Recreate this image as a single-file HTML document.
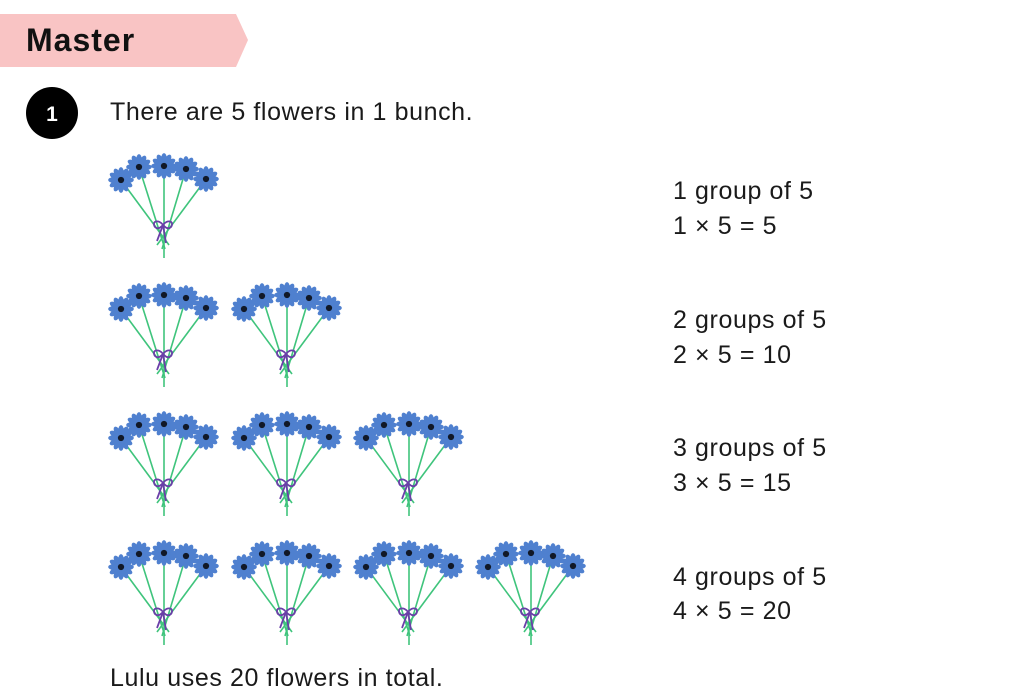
<!DOCTYPE html>
<html><head><meta charset="utf-8"><style>
html,body{margin:0;padding:0;background:#fff;}
body{width:1023px;height:695px;overflow:hidden;position:relative;font-family:"Liberation Sans",sans-serif;}
.t{position:absolute;font-size:25px;letter-spacing:0.6px;color:#1a1a1a;white-space:nowrap;line-height:1;}
</style></head><body>
<svg width="1023" height="695" style="position:absolute;left:0;top:0">
<defs>
<g id="fl" transform="scale(1.2)">
  <g fill="#4f80cf">
    <ellipse cx="0" cy="-6.5" rx="2.3" ry="4.2"/>
    <ellipse cx="0" cy="-6.5" rx="2.3" ry="4.2" transform="rotate(30)"/>
    <ellipse cx="0" cy="-6.5" rx="2.3" ry="4.2" transform="rotate(60)"/>
    <ellipse cx="0" cy="-6.5" rx="2.3" ry="4.2" transform="rotate(90)"/>
    <ellipse cx="0" cy="-6.5" rx="2.3" ry="4.2" transform="rotate(120)"/>
    <ellipse cx="0" cy="-6.5" rx="2.3" ry="4.2" transform="rotate(150)"/>
    <ellipse cx="0" cy="-6.5" rx="2.3" ry="4.2" transform="rotate(180)"/>
    <ellipse cx="0" cy="-6.5" rx="2.3" ry="4.2" transform="rotate(210)"/>
    <ellipse cx="0" cy="-6.5" rx="2.3" ry="4.2" transform="rotate(240)"/>
    <ellipse cx="0" cy="-6.5" rx="2.3" ry="4.2" transform="rotate(270)"/>
    <ellipse cx="0" cy="-6.5" rx="2.3" ry="4.2" transform="rotate(300)"/>
    <ellipse cx="0" cy="-6.5" rx="2.3" ry="4.2" transform="rotate(330)"/>
    <circle r="5.5"/>
  </g>
  <circle r="2.6" fill="#111827"/>
</g>
<g id="b">
  <g stroke="#3fc47c" stroke-width="1.6" fill="none">
    <line x1="-42" y1="-45" x2="6" y2="20"/>
    <line x1="-24" y1="-58" x2="2" y2="24"/>
    <line x1="1" y1="-59" x2="1" y2="33"/>
    <line x1="23" y1="-56" x2="-1" y2="24"/>
    <line x1="43" y1="-46" x2="-6" y2="20"/>
  </g>
  <g stroke="#6a3fa8" stroke-width="1.8" fill="none">
    <path d="M0,0 C-4,-6 -12,-4 -8,2 C-5,5 -2,2 0,0"/>
    <path d="M0,0 C4,-6 12,-4 8,2 C5,5 2,2 0,0"/>
    <path d="M0,0 L-6,16"/>
    <path d="M0,0 L3,18"/>
  </g>
  <use href="#fl" x="-42" y="-45"/>
  <use href="#fl" x="-24" y="-58"/>
  <use href="#fl" x="1" y="-59"/>
  <use href="#fl" x="23" y="-56"/>
  <use href="#fl" x="43" y="-46"/>
</g>
</defs>
<polygon points="0,14 236,14 248,40 236,67 0,67" fill="#f9c4c4"/>
<circle cx="52" cy="113" r="26" fill="#000"/>
<text x="52" y="121" text-anchor="middle" font-family="Liberation Sans" font-weight="bold" font-size="21" fill="#fff">1</text>
<use href="#b" x="163" y="225"/>
<use href="#b" x="163" y="354"/>
<use href="#b" x="286" y="354"/>
<use href="#b" x="163" y="483"/>
<use href="#b" x="286" y="483"/>
<use href="#b" x="408" y="483"/>
<use href="#b" x="163" y="612"/>
<use href="#b" x="286" y="612"/>
<use href="#b" x="408" y="612"/>
<use href="#b" x="530" y="612"/>
</svg>
<div class="t" style="left:26px;top:24px;font-size:32px;letter-spacing:1px;font-weight:bold;color:#111">Master</div>
<div class="t" style="left:110px;top:100px">There are 5 flowers in 1 bunch.</div>
<div class="t" style="left:673px;top:179px">1 group of 5</div>
<div class="t" style="left:673px;top:214px">1 × 5 = 5</div>
<div class="t" style="left:673px;top:308px">2 groups of 5</div>
<div class="t" style="left:673px;top:343px">2 × 5 = 10</div>
<div class="t" style="left:673px;top:436px">3 groups of 5</div>
<div class="t" style="left:673px;top:471px">3 × 5 = 15</div>
<div class="t" style="left:673px;top:565px">4 groups of 5</div>
<div class="t" style="left:673px;top:599px">4 × 5 = 20</div>
<div class="t" style="left:110px;top:666px">Lulu uses 20 flowers in total.</div>
</body></html>
